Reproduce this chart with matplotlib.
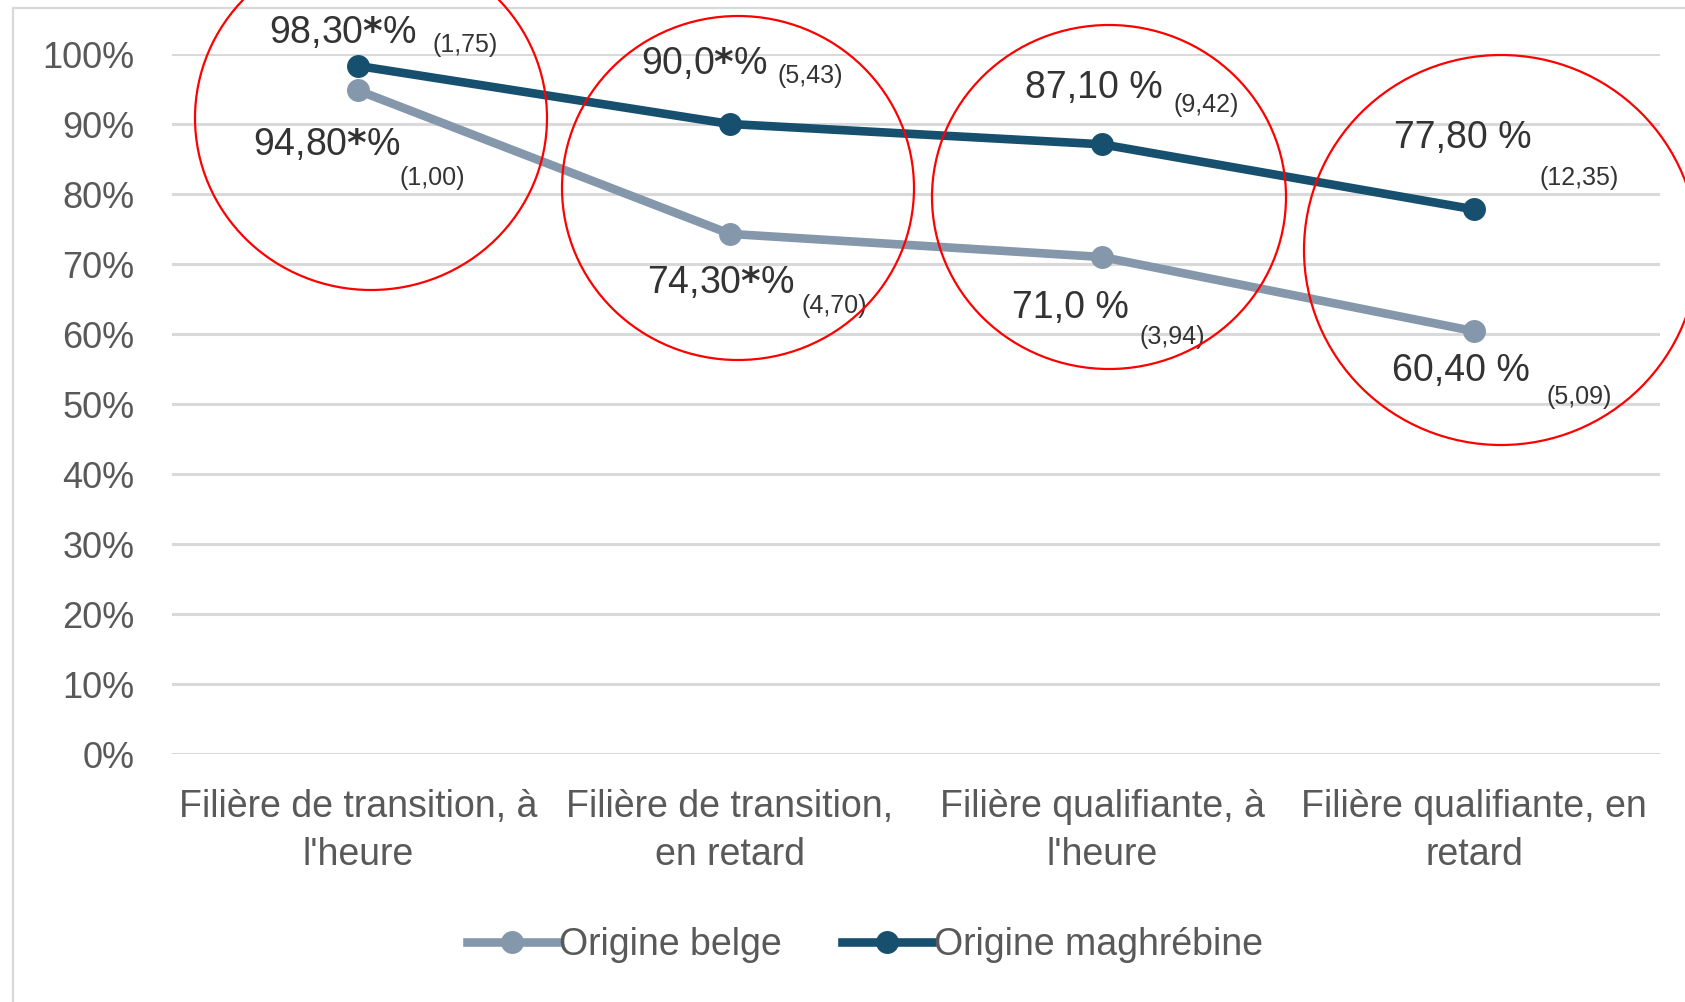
import matplotlib.pyplot as plt
from matplotlib.patches import Ellipse, Rectangle
from matplotlib.lines import Line2D

plt.rcParams['font.family'] = ['Liberation Sans', 'DejaVu Sans']
plt.rcParams['mathtext.fontset'] = 'custom'
plt.rcParams['mathtext.rm'] = 'Liberation Sans'
plt.rcParams['mathtext.bf'] = 'DejaVu Sans:bold'

# données
categories = ["Filière de transition, à\nl'heure", "Filière de transition,\nen retard",
              "Filière qualifiante, à\nl'heure", "Filière qualifiante, en\nretard"]
belge = [0.948, 0.743, 0.710, 0.604]
maghreb = [0.983, 0.900, 0.871, 0.778]
belge_labels = [r"94,80$\mathbf{*}$%", r"74,30$\mathbf{*}$%", "71,0 %", "60,40 %"]
maghreb_labels = [r"98,30$\mathbf{*}$%", r"90,0$\mathbf{*}$%", "87,10 %", "77,80 %"]
belge_extra = ["(1,00)", "(4,70)", "(3,94)", "(5,09)"]
maghreb_extra = ["(1,75)", "(5,43)", "(9,42)", "(12,35)"]

# positions des étiquettes (décalage en pixels)
belge_off = [(-31, -55), (-9, -49), (-32, -51), (-13, -40)]
belge_sub_off = [(74, -88), (104, -72), (70, -80), (105, -66)]
maghreb_off = [(-15, 33), (-26, 60), (-8, 56), (-11, 71)]
maghreb_sub_off = [(107, 21), (80, 48), (104, 39), (105, 31)]

c_belge = '#8497AB'
c_magh = '#17506F'
grid_c = '#D9D9D9'
lw = 6.2
ms = 15.5

fig = plt.figure(figsize=(16.85, 10.02), dpi=100)
ax = fig.add_axes([172 / 1685, 1 - 754 / 1002, (1660 - 172) / 1685, 700 / 1002])

x = range(len(categories))
ax.plot(x, belge, color=c_belge, lw=lw, marker='o', markersize=ms, label='Origine belge',
        solid_capstyle='round', zorder=3)
ax.plot(x, maghreb, color=c_magh, lw=lw, marker='o', markersize=ms, label='Origine maghrébine',
        solid_capstyle='round', zorder=3)

ax.set_xlim(-0.5, 3.5)
ax.set_ylim(0, 1.0)
ax.set_yticks([i / 10 for i in range(11)])
ax.set_yticklabels(["{}%".format(i * 10) for i in range(11)], fontsize=26, color='#595959')
ax.set_xticks(list(x))
ax.set_xticklabels(categories, fontsize=27, color='#595959', linespacing=1.45)
ax.tick_params(axis='y', length=0, pad=27)
ax.tick_params(axis='x', length=0, pad=25)
ax.yaxis.grid(True, color=grid_c, lw=2.2)
ax.set_axisbelow(True)
for s in ax.spines.values():
    s.set_visible(False)

for i in x:
    ax.annotate(belge_labels[i], (i, belge[i]), xytext=belge_off[i], textcoords='offset pixels',
                ha='center', va='center', fontsize=27, color='#333333')
    ax.annotate(belge_extra[i], (i, belge[i]), xytext=belge_sub_off[i], textcoords='offset pixels',
                ha='center', va='center', fontsize=18, color='#333333')
    ax.annotate(maghreb_labels[i], (i, maghreb[i]), xytext=maghreb_off[i], textcoords='offset pixels',
                ha='center', va='center', fontsize=27, color='#333333')
    ax.annotate(maghreb_extra[i], (i, maghreb[i]), xytext=maghreb_sub_off[i], textcoords='offset pixels',
                ha='center', va='center', fontsize=18, color='#333333')

# légende
handles = [Line2D([], [], color=c_belge, lw=lw, marker='o', markersize=ms),
           Line2D([], [], color=c_magh, lw=lw, marker='o', markersize=ms)]
leg = fig.legend(handles, ['Origine belge', 'Origine maghrébine'], loc='center',
                 bbox_to_anchor=(865 / 1685, 1 - 945 / 1002), ncol=2, frameon=False,
                 fontsize=27, handlelength=2.4, handletextpad=0.05, columnspacing=1.6)
for t in leg.get_texts():
    t.set_color('#595959')

# cercles rouges (annotations)
def px(xp, yp):
    return (xp / 100, (1002 - yp) / 100)

for cx, cy, rx, ry in [(371, 118, 176, 172), (738, 188, 176, 172),
                       (1109, 197, 177, 172), (1501, 250, 197, 195)]:
    e = Ellipse(px(cx, cy), 2 * rx / 100, 2 * ry / 100, fill=False, edgecolor='#FF0000',
                lw=1.6, transform=fig.dpi_scale_trans, clip_on=False, zorder=10)
    fig.add_artist(e)

# bordure de la zone de graphique
fig.add_artist(Rectangle(px(13, 1100), 20, (1100 - 7.5) / 100, fill=False, edgecolor=grid_c,
                         lw=1.6, transform=fig.dpi_scale_trans, clip_on=False))

fig.savefig('out.png', dpi=100)
